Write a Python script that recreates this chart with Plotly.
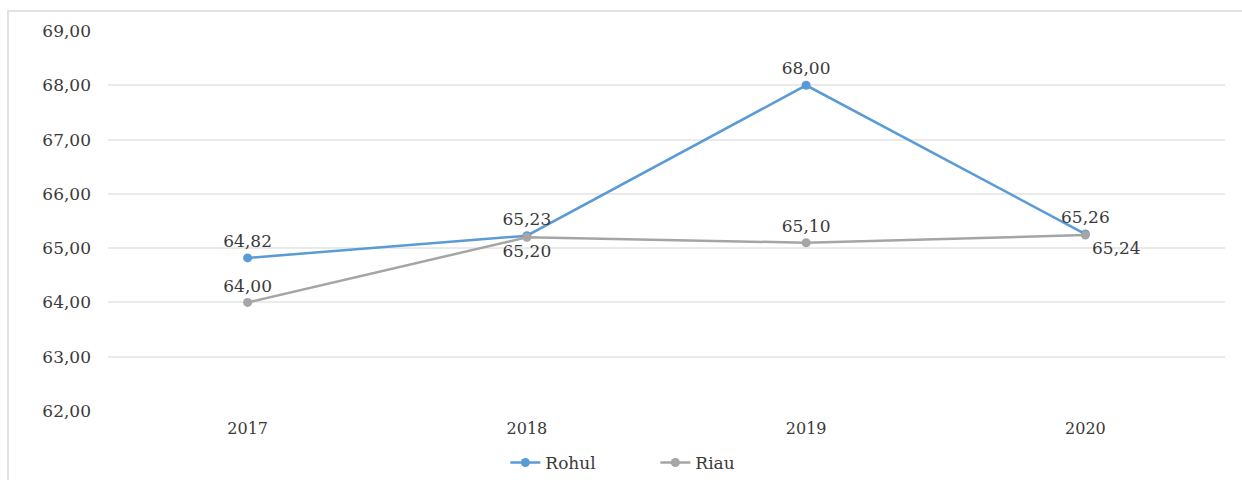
import plotly.graph_objects as go

years = ["2017", "2018", "2019", "2020"]
rohul = [64.82, 65.23, 68.00, 65.26]
riau = [64.00, 65.20, 65.10, 65.24]
y_ticks = [62, 63, 64, 65, 66, 67, 68, 69]

FONT = "DejaVu Serif"
TXT = "#3A3A3A"

def fmt(v):
    return f"{v:.2f}".replace(".", ",")

fig = go.Figure()
fig.add_trace(go.Scatter(
    x=years, y=rohul, name="Rohul", mode="lines+markers+text",
    line=dict(color="#5B9BD5", width=2.5),
    marker=dict(size=9, color="#5B9BD5"),
    text=[fmt(v) for v in rohul], textposition="top center",
    textfont=dict(family=FONT, size=17, color=TXT),
))
fig.add_trace(go.Scatter(
    x=years, y=riau, name="Riau", mode="lines+markers+text",
    line=dict(color="#A5A5A5", width=2.5),
    marker=dict(size=9, color="#A5A5A5"),
    text=[fmt(v) for v in riau],
    textposition=["top center", "bottom center", "top center", "bottom right"],
    textfont=dict(family=FONT, size=17, color=TXT),
))

# light outer frame around the chart area
fig.add_shape(type="rect", xref="paper", yref="paper",
              x0=(8 - 108) / 1117, x1=(1260 - 108) / 1117,
              y0=(411 - 500) / 380, y1=(411 - 11) / 380,
              line=dict(color="#D9D9D9", width=1.5), layer="below")

fig.update_layout(
    width=1242, height=480,
    margin=dict(l=108, r=17, t=31, b=69, autoexpand=False),
    paper_bgcolor="white", plot_bgcolor="white",
    font=dict(family=FONT, size=16, color=TXT),
    showlegend=True,
    legend=dict(orientation="h", x=0.49, xanchor="center",
                yref="container", y=(480 - 463) / 480, yanchor="middle",
                entrywidth=105, entrywidthmode="pixels",
                font=dict(family=FONT, size=17, color=TXT)),
    xaxis=dict(type="category", range=[-0.5, 3.5], showgrid=False, zeroline=False,
               showline=False, ticks="", ticklabelstandoff=6, automargin=False,
               tickfont=dict(family=FONT, size=16, color=TXT)),
    yaxis=dict(range=[62, 69], tickvals=y_ticks, ticktext=[fmt(v) for v in y_ticks],
               showgrid=True, gridcolor="#EAEAEA", gridwidth=1.5, zeroline=False,
               showline=False, ticks="", ticklabelstandoff=16, automargin=False,
               tickfont=dict(family=FONT, size=17, color=TXT)),
)

fig.write_html("out.html")
